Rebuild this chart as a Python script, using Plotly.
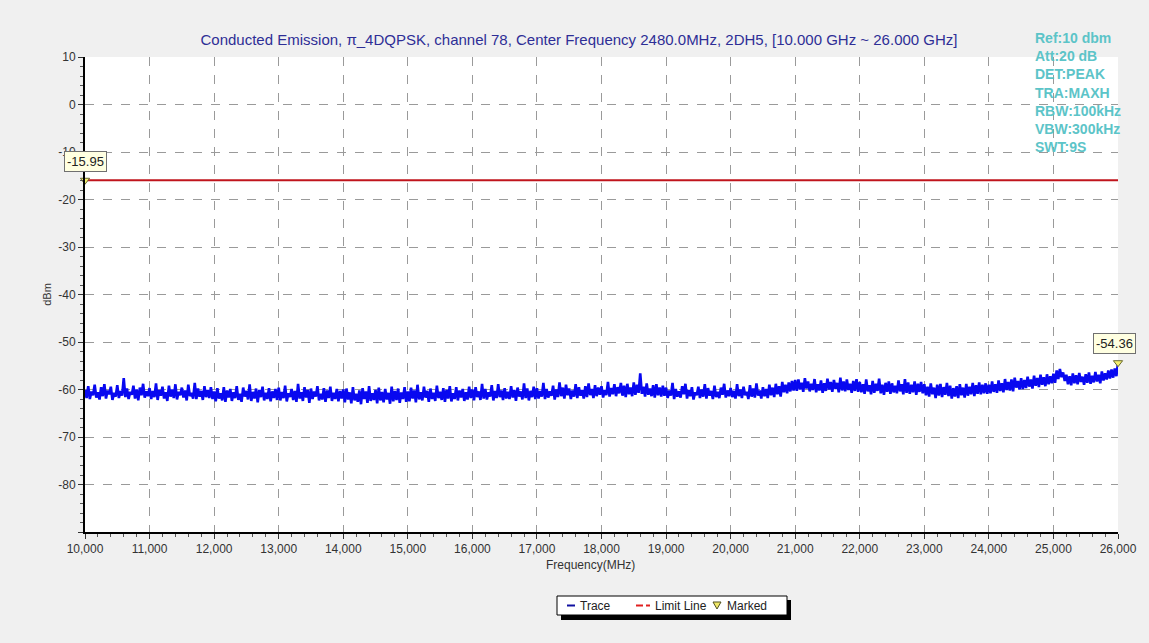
import plotly.graph_objects as go

# frequency axis (MHz), one sample every 25 MHz
freq_start = 10000
freq_step = 25

level_dbm = [
    -60.1, -61.8, -59.3, -62.0, -60.4, -61.2, -59.0, -61.7, -60.6, -62.1, -59.5, -61.4, -58.9, -61.9, -60.2, -61.0, -59.4, -62.2, -60.7, -61.5,
    -59.1, -61.8, -60.3, -61.3, -57.6, -61.6, -59.8, -62.0, -60.5, -61.1, -59.2, -61.9, -60.0, -62.3, -59.6, -61.2, -58.8, -61.7, -60.4, -61.4,
    -59.7, -62.0, -60.3, -61.6, -58.7, -62.2, -60.1, -61.3, -59.4, -61.9, -60.6, -62.4, -59.2, -61.5, -60.0, -61.8, -58.9, -62.1, -60.5, -61.2,
    -59.6, -61.7, -60.2, -62.3, -59.0, -61.4, -60.7, -61.9, -58.6, -62.0, -59.8, -61.5, -60.3, -62.2, -59.3, -61.6, -60.1, -61.8, -59.5, -62.0,
    -60.4, -62.5, -59.7, -61.9, -60.8, -62.3, -59.5, -62.6, -60.2, -61.7, -59.9, -62.4, -60.6, -61.8, -59.3, -62.2, -60.9, -62.6, -59.6, -61.5,
    -60.3, -62.1, -58.9, -62.4, -60.5, -61.9, -59.8, -62.7, -60.1, -61.6, -59.4, -62.3, -60.7, -62.0, -59.7, -62.5, -60.4, -61.8, -59.9, -62.2,
    -59.6, -62.3, -60.5, -61.8, -59.2, -62.5, -60.8, -61.6, -59.9, -62.2, -60.3, -62.6, -58.8, -61.9, -60.6, -62.4, -59.5, -61.7, -60.1, -62.8,
    -59.8, -62.0, -60.4, -61.5, -59.3, -62.3, -60.9, -62.1, -59.7, -62.6, -60.2, -61.8, -59.4, -62.4, -60.7, -62.0, -59.9, -62.5, -60.3, -61.9,
    -60.0, -62.7, -59.8, -62.1, -60.6, -62.9, -59.5, -62.3, -60.9, -62.6, -60.2, -63.1, -59.7, -62.0, -60.4, -62.8, -59.3, -62.4, -60.8, -62.2,
    -60.1, -62.9, -59.6, -62.3, -60.5, -62.7, -59.9, -62.1, -60.7, -63.0, -59.4, -62.5, -60.3, -62.2, -59.8, -62.8, -60.6, -62.0, -59.5, -62.6,
    -60.4, -62.5, -59.6, -61.9, -60.2, -62.7, -59.0, -62.1, -60.6, -62.3, -59.4, -61.7, -60.3, -62.6, -59.8, -62.0, -60.7, -62.4, -59.2, -61.8,
    -60.5, -62.2, -59.7, -62.6, -60.1, -61.9, -59.3, -62.5, -60.8, -62.0, -59.5, -62.3, -60.2, -61.7, -59.9, -62.4, -60.6, -62.1, -59.4, -61.8,
    -60.0, -62.3, -59.5, -61.6, -60.4, -62.2, -58.8, -61.9, -59.9, -62.1, -60.6, -61.5, -59.1, -62.3, -60.3, -61.8, -58.9, -61.6, -60.2, -62.2,
    -59.7, -61.9, -60.5, -62.0, -59.3, -61.7, -60.1, -62.4, -59.6, -61.5, -60.4, -62.1, -58.7, -61.8, -59.8, -62.3, -60.3, -61.6, -59.4, -62.0,
    -59.7, -61.9, -60.3, -61.5, -58.6, -62.0, -59.9, -61.7, -60.4, -61.3, -59.2, -62.1, -60.0, -61.6, -58.5, -61.4, -59.6, -61.9, -59.0, -61.2,
    -59.8, -62.0, -60.2, -61.5, -58.9, -61.8, -59.5, -61.3, -60.1, -61.9, -59.3, -61.6, -58.7, -61.2, -59.9, -61.8, -59.1, -61.4, -59.6, -61.1,
    -59.3, -61.7, -60.1, -61.2, -58.4, -61.5, -59.7, -61.0, -58.9, -61.4, -59.5, -60.8, -58.6, -61.3, -59.2, -61.6, -58.8, -61.0, -59.6, -61.4,
    -58.5, -61.1, -59.0, -60.7, -56.6, -60.9, -59.4, -61.5, -58.7, -61.1, -59.8, -61.4, -59.1, -61.7, -58.9, -61.2, -59.6, -61.5, -59.2, -61.3,
    -59.6, -61.8, -60.2, -61.3, -58.6, -62.0, -59.9, -61.5, -60.4, -61.7, -59.3, -61.0, -58.8, -61.9, -60.1, -61.4, -59.5, -62.1, -60.6, -61.2,
    -59.4, -61.8, -60.0, -61.5, -58.9, -61.9, -59.7, -61.3, -60.3, -62.0, -59.2, -61.6, -60.5, -61.8, -59.6, -61.1, -58.8, -61.7, -60.2, -61.4,
    -59.7, -61.6, -60.3, -61.9, -58.9, -61.4, -60.0, -61.8, -59.4, -61.2, -60.5, -62.0, -59.1, -61.5, -59.8, -61.7, -58.7, -61.3, -60.2, -61.9,
    -59.5, -61.4, -59.9, -61.8, -59.0, -61.2, -59.6, -61.6, -58.8, -61.0, -59.3, -61.5, -58.4, -60.6, -59.0, -60.8, -58.5, -60.4, -58.2, -60.2,
    -58.0, -60.3, -57.9, -60.0, -58.6, -60.5, -57.6, -59.8, -58.3, -60.4, -58.8, -60.1, -57.8, -60.6, -58.9, -60.2, -58.1, -60.7, -58.7, -60.3,
    -57.7, -60.0, -58.4, -60.5, -58.0, -59.9, -58.6, -60.6, -57.5, -60.2, -58.3, -60.4, -57.9, -60.1, -58.8, -60.7, -58.2, -60.3, -57.8, -60.5,
    -58.4, -60.6, -58.9, -60.9, -57.9, -60.4, -59.1, -61.0, -58.2, -60.7, -58.8, -60.3, -57.7, -60.8, -59.0, -61.1, -58.6, -60.5, -58.3, -60.9,
    -58.7, -60.6, -59.2, -60.8, -58.1, -60.4, -58.9, -61.0, -57.8, -60.7, -58.5, -60.9, -59.0, -60.6, -58.3, -61.1, -58.8, -60.5, -58.4, -60.8,
    -58.9, -61.2, -59.4, -61.5, -58.7, -61.0, -59.6, -61.8, -59.0, -61.3, -58.8, -61.6, -59.5, -61.1, -58.6, -61.4, -59.2, -61.9, -59.7, -61.5,
    -59.3, -61.8, -58.9, -61.2, -59.6, -61.7, -58.8, -61.3, -59.4, -61.0, -58.6, -61.4, -59.1, -60.9, -58.5, -61.0, -59.0, -60.8, -58.7, -60.9,
    -59.0, -60.8, -58.3, -60.5, -58.9, -60.7, -58.1, -60.3, -58.7, -60.6, -57.8, -60.1, -58.4, -60.2, -57.9, -60.4, -57.5, -59.6, -58.2, -60.0,
    -57.6, -59.9, -58.0, -59.7, -57.3, -59.4, -57.9, -59.8, -57.1, -59.2, -57.6, -59.5, -56.9, -59.0, -57.4, -59.3, -56.8, -58.9, -57.2, -58.7,
    -56.7, -58.6, -56.0, -57.8, -55.7, -57.4, -56.4, -58.2, -56.9, -58.9, -57.2, -59.1, -56.6, -58.7, -57.0, -58.9, -56.5, -58.4, -57.3, -59.0,
    -56.8, -58.6, -56.4, -58.8, -57.1, -58.5, -56.3, -58.3, -56.9, -58.7, -56.2, -58.1, -56.6, -57.9, -56.0, -57.7, -55.8, -57.5, -55.6, -57.2,
    -54.36,
]
freq_mhz = [freq_start + i * freq_step for i in range(len(level_dbm))]

limit_dbm = -15.95
marker_freq = [10000, 26000]
marker_level = [-15.95, -54.36]
marker_text = ["-15.95", "-54.36"]

y_ticks = [10, 0, -10, -20, -30, -40, -50, -60, -70, -80, -90]
y_tick_text = ["10", "0", "-10", "-20", "-30", "-40", "-50", "-60", "-70", "-80", ""]

settings = ["Ref:10 dbm", "Att:20 dB", "DET:PEAK", "TRA:MAXH", "RBW:100kHz", "VBW:300kHz", "SWT:9S"]
legend_names = ["Trace", "Limit Line", "Marked"]

font = "Liberation Sans, Arial, sans-serif"

# plot box in pixels (for placing things outside the axes)
L, R, T, B = 85, 31, 57, 111
PW, PH = 1149 - L - R, 643 - T - B


def px(x):
    return (x - L) / PW


def py(y):
    return (643 - B - y) / PH


fig = go.Figure()
fig.add_trace(go.Scatter(
    x=freq_mhz, y=level_dbm, mode="lines", name=legend_names[0],
    line=dict(color="#0808f0", width=2.6), showlegend=False,
))
fig.add_trace(go.Scatter(
    x=[freq_mhz[0], freq_mhz[-1]], y=[limit_dbm, limit_dbm], mode="lines",
    name=legend_names[1], line=dict(color="#c0141c", width=2), showlegend=False,
))
fig.add_trace(go.Scatter(
    x=marker_freq, y=marker_level, mode="markers", name=legend_names[2],
    marker=dict(symbol="triangle-down", size=8, color="#f4f070",
                line=dict(color="#6a6a30", width=1)),
    cliponaxis=False, showlegend=False,
))

annotations = []
for fx, lv, txt, xs in zip(marker_freq, marker_level, marker_text, [0, -4]):
    annotations.append(dict(
        x=fx, y=lv, xref="x", yref="y", text=txt, showarrow=False,
        xshift=xs, yshift=19, bgcolor="#ffffe1", bordercolor="#707070",
        borderwidth=1, borderpad=2, font=dict(family=font, size=13, color="#222"),
    ))
# analyser settings block, top right
annotations.append(dict(
    x=px(1033), y=py(28), xref="paper", yref="paper",
    text="<br>".join(settings), showarrow=False, xanchor="left", yanchor="top",
    align="left", font=dict(family=font, size=14, color="#5cc4c8", weight="bold"),
))
annotations.append(dict(
    x=px(590), y=py(565), xref="paper", yref="paper", text="Frequency(MHz)",
    showarrow=False, xanchor="center", yanchor="middle",
    font=dict(family=font, size=12, color="#333"),
))

# hand-drawn legend box like the analyser software (with drop shadow)
ly = py(605.5)
shapes = [
    dict(type="rect", xref="paper", yref="paper", x0=px(561), x1=px(791), y0=py(620), y1=py(600),
         fillcolor="black", line=dict(width=0), layer="below"),
    dict(type="rect", xref="paper", yref="paper", x0=px(557), x1=px(787), y0=py(615), y1=py(596),
         fillcolor="white", line=dict(color="black", width=1)),
    dict(type="line", xref="paper", yref="paper", x0=px(567), x1=px(575), y0=ly, y1=ly,
         line=dict(color="#1010a0", width=2)),
    dict(type="line", xref="paper", yref="paper", x0=px(636), x1=px(643), y0=ly, y1=ly,
         line=dict(color="#e02020", width=2)),
    dict(type="line", xref="paper", yref="paper", x0=px(646), x1=px(650), y0=ly, y1=ly,
         line=dict(color="#e02020", width=2)),
    dict(type="path", xref="paper", yref="paper",
         path=f"M {px(713)},{py(602)} L {px(721)},{py(602)} L {px(717)},{py(609)} Z",
         fillcolor="#f0e868", line=dict(color="#505020", width=1)),
]
for name, lx in zip(legend_names, [578, 653, 725]):
    annotations.append(dict(
        x=px(lx), y=ly, xref="paper", yref="paper", text=name, showarrow=False,
        xanchor="left", yanchor="middle", font=dict(family=font, size=12, color="#222"),
    ))

fig.update_layout(
    width=1149, height=643,
    paper_bgcolor="#f0f0f0", plot_bgcolor="white",
    margin=dict(l=L, r=R, t=T, b=B),
    font=dict(family=font, size=12, color="#333"),
    showlegend=False,
    title=dict(
        text="Conducted Emission, π_4DQPSK, channel 78, Center Frequency 2480.0MHz, 2DH5, [10.000 GHz ~ 26.000 GHz]",
        x=579 / 1149, xanchor="center", y=1 - 40 / 643, yanchor="middle",
        font=dict(family=font, size=15, color="#2e2e96"),
    ),
    xaxis=dict(
        range=[10000, 26000], dtick=1000, tickformat=",d",
        showgrid=True, gridcolor="#9a9a9a", griddash="dash", gridwidth=1,
        showline=True, linecolor="black", linewidth=2,
        ticks="outside", ticklen=5, tickcolor="#333",
        minor=dict(dtick=200, ticks="outside", ticklen=3, tickcolor="#555", showgrid=False),
        zeroline=False, tickfont=dict(size=12),
    ),
    yaxis=dict(
        range=[-90, 10], tickvals=y_ticks, ticktext=y_tick_text,
        showgrid=True, gridcolor="#9a9a9a", griddash="dash", gridwidth=1,
        showline=True, linecolor="black", linewidth=2,
        ticks="outside", ticklen=5, tickcolor="#333",
        minor=dict(dtick=2, ticks="outside", ticklen=3, tickcolor="#555", showgrid=False),
        title=dict(text="dBm", standoff=4, font=dict(size=11)),
        zeroline=False, tickfont=dict(size=12),
    ),
    annotations=annotations,
    shapes=shapes,
)

fig.write_html("out.html", config={"displayModeBar": False},
               post_script="document.body.style.margin='0';")
